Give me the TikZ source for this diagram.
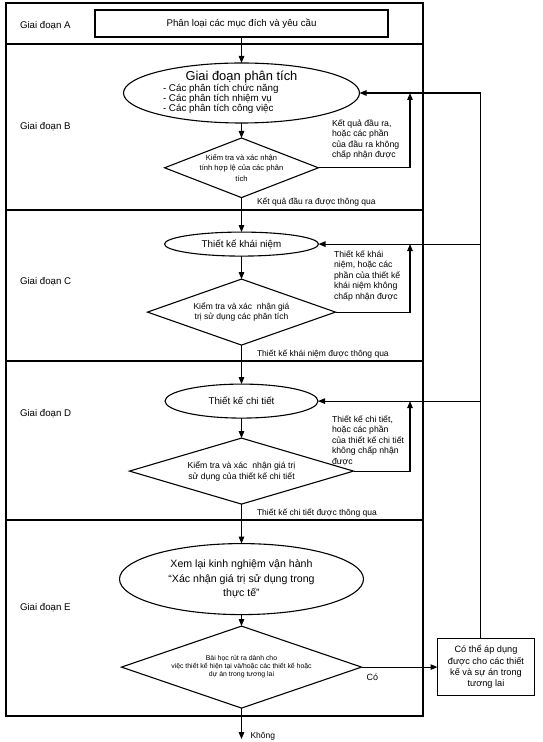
\documentclass[tikz,border=0pt]{standalone}
\usepackage{fontspec}
\setmainfont{Liberation Sans}
\usetikzlibrary{positioning,shapes.geometric,arrows.meta}
\newcommand{\fsz}[2]{\fontsize{#1pt}{#2pt}\selectfont}

\begin{document}
\begin{tikzpicture}[x=1pt,y=1pt,
  every node/.style={inner sep=0pt, outer sep=0pt, font=\fsz{9.7}{11}},
  stage/.style={anchor=west},
  oval/.style={draw, ellipse, line width=1.1pt, align=center},
  check/.style={draw, diamond, line width=1.1pt, align=center},
  plainbox/.style={draw, rectangle, line width=1.1pt, align=center},
  note/.style={anchor=north west, align=left, font=\fsz{8.7}{10.5}},
  pass/.style={anchor=west, font=\fsz{8.5}{10}},
  arr/.style={-{Triangle[length=7pt,width=5.5pt]}, line width=1.1pt}]

  \useasboundingbox (0,0) rectangle (543,742);
  \fill[white] (0,0) rectangle (543,742);

  \draw[line width=1.1pt] (6,739) rectangle (423,26);
  \draw[line width=1.1pt] (6,698) -- (423,698);
  \draw[line width=1.1pt] (6,532) -- (423,532);
  \draw[line width=1.1pt] (6,381) -- (423,381);
  \draw[line width=1.1pt] (6,222) -- (423,222);

  \node[stage] (ga) at (20,716) {Giai đoạn A};
  \node[stage] (gb) at (20,615) {Giai đoạn B};
  \node[stage] (gc) at (20,460) {Giai đoạn C};
  \node[stage] (gd) at (20,328) {Giai đoạn D};
  \node[stage] (ge) at (20,134) {Giai đoạn E};

  \node[plainbox, minimum width=293pt, minimum height=27pt] (boxa) at (241.5,718.5) {Phân loại các mục đích và yêu cầu};
  \node[oval, minimum width=236pt, minimum height=60pt, below=26pt of boxa] (eb) {};
  \node[font=\fsz{12.9}{14}] (tb) at ([yshift=16pt]eb.center) {Giai đoạn phân tích};
  \node[anchor=west, align=left, font=\fsz{9.8}{10}] (lb) at ([xshift=-78.5pt,yshift=-6pt]eb.center) {- Các phân tích chức năng\\- Các phân tích nhiệm vụ\\- Các phân tích công việc};
  \node[check, minimum width=152pt, minimum height=59pt, aspect=2.58, font=\fsz{7.6}{10.5}, below=15pt of eb] (db) {Kiểm tra và xác nhận\\tính hợp lệ của các phân\\tích};
  \node[oval, minimum width=154pt, minimum height=24pt, font=\fsz{9.8}{11}, below=34.5pt of db] (ec) {Thiết kế khái niệm};
  \node[check, minimum width=188pt, minimum height=66pt, aspect=2.85, font=\fsz{8.5}{10}, below=23pt of ec] (dc) {Kiểm tra và xác~ nhận giá\\trị sử dụng các phân tích};
  \node[oval, minimum width=153pt, minimum height=34pt, font=\fsz{9.8}{11}, below=39pt of dc] (ed) {Thiết kế chi tiết};
  \node[check, minimum width=224pt, minimum height=66pt, aspect=3.4, font=\fsz{8.7}{11}, below=20pt of ed] (dd) {Kiểm tra và xác~ nhận giá trị\\sử dụng của thiết kế chi tiết};
  \node[oval, minimum width=244pt, minimum height=71pt, font=\fsz{10.6}{14.5}, below=39.5pt of dd] (ee) {Xem lại kinh nghiệm vận hành\\“Xác nhận giá trị sử dụng trong\\thực tế”};
  \node[check, minimum width=240pt, minimum height=82pt, aspect=2.93, font=\fsz{6.9}{8}, below=11.5pt of ee] (de) {Bài học rút ra dành cho\\việc thiết kế hiện tại và/hoặc các thiết kế hoặc\\dự án trong tương lai};
  \node[plainbox, minimum width=97pt, minimum height=57pt, font=\fsz{9.2}{11.3}, right=76pt of de] (bf) {Có thể áp dụng\\được cho các thiết\\kế và sự án trong\\tương lai};

  \coordinate[below=31pt of de] (ko);
  \coordinate (up) at ([xshift=-5.5pt]bf.north);
  \coordinate (fb) at (410,0);

  \draw[arr] (boxa) -- (eb);
  \draw[arr] (eb) -- (db);
  \draw[arr] (db) -- (ec);
  \draw[arr] (ec) -- (dc);
  \draw[arr] (dc) -- (ed);
  \draw[arr] (ed) -- (dd);
  \draw[arr] (dd) -- (ee);
  \draw[arr] (ee) -- (de);
  \draw[arr] (de) -- (ko);
  \draw[arr] (de) -- (bf);
  \draw[arr] (db.east) -| (fb |- eb.east);
  \draw[arr] (dc.east) -| (fb |- ec.east);
  \draw[arr] (dd.east) -| (fb |- ed.east);
  \draw[arr] (up) |- (eb.east);
  \draw[arr] (up |- ec.east) -- (ec.east);
  \draw[arr] (up |- ed.east) -- (ed.east);

  \node[note] (nb) at (332,622.5) {Kết quả đầu ra,\\hoặc các phần\\của đầu ra không\\chấp nhận được};
  \node[note] (nc) at (334,491.5) {Thiết kế khái\\niệm, hoặc các\\phần của thiết kế\\khái niệm không\\chấp nhận được};
  \node[note] (nd) at (332,326.5) {Thiết kế chi tiết,\\hoặc các phần\\của thiết kế chi tiết\\không chấp nhận\\được};

  \node[pass] (pb) at (257,540) {Kết quả đầu ra được thông qua};
  \node[pass] (pc) at (257,388) {Thiết kế khái niệm được thông qua};
  \node[pass] (pd) at (257,229) {Thiết kế chi tiết được thông qua};

  \node[anchor=west, font=\fsz{9}{10}] (co) at ([xshift=5pt,yshift=-10pt]de.east) {Có};
  \node[anchor=west, font=\fsz{8.5}{10}] (kh) at ([xshift=9pt,yshift=3pt]ko) {Không};
\end{tikzpicture}
\end{document}
